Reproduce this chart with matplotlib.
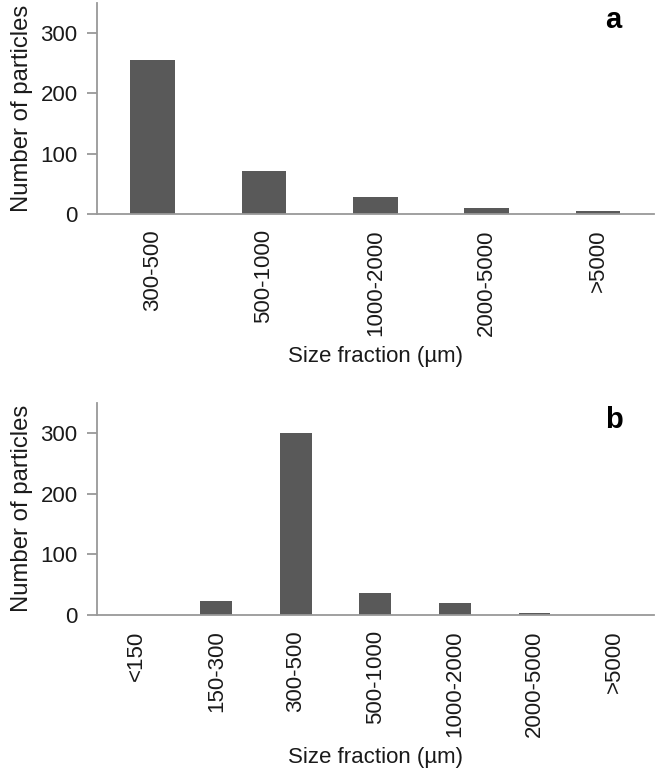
import matplotlib.pyplot as plt

plt.rcParams['font.family'] = ['Liberation Sans', 'DejaVu Sans']

# panel a
cats_a = ['300-500', '500-1000', '1000-2000', '2000-5000', '>5000']
counts_a = [256, 72, 29, 10, 5]

# panel b
cats_b = ['<150', '150-300', '300-500', '500-1000', '1000-2000', '2000-5000', '>5000']
counts_b = [0, 23, 300, 37, 20, 4, 0]

bar_color = '#595959'
axis_color = '#999999'
text_color = '#1a1a1a'
fs = 16

fig = plt.figure(figsize=(6.57, 7.74), dpi=100)
ax_a = fig.add_axes([0.1476, 0.7235, 0.8474, 0.2725])
ax_b = fig.add_axes([0.1476, 0.2054, 0.8474, 0.2743])


def draw_panel(ax, cats, counts, letter):
    x = range(len(cats))
    ax.bar(x, counts, width=0.4, color=bar_color, zorder=2)
    ax.set_xlim(-0.5, len(cats) - 0.5)
    ax.set_ylim(0, 350)
    ax.set_yticks([0, 100, 200, 300])
    ax.set_xticks(list(x))
    ax.set_xticklabels(cats, rotation=90, fontsize=fs, color=text_color)
    for s in ['top', 'right']:
        ax.spines[s].set_visible(False)
    for s in ['left', 'bottom']:
        ax.spines[s].set_color(axis_color)
        ax.spines[s].set_linewidth(1.3)
    ax.tick_params(axis='y', length=7, width=1.3, color=axis_color,
                   labelsize=fs, labelcolor=text_color, pad=7)
    ax.tick_params(axis='x', length=0, pad=11)
    ax.set_ylabel('Number of particles', fontsize=17.2, color=text_color, labelpad=5)
    ax.set_xlabel('Size fraction (µm)', fontsize=fs, color=text_color, labelpad=7)
    ax.text(0.928, 0.88, letter, transform=ax.transAxes, fontsize=21,
            fontweight='bold', ha='center', va='baseline', color='black')


draw_panel(ax_a, cats_a, counts_a, 'a')
draw_panel(ax_b, cats_b, counts_b, 'b')

fig.savefig('out.png', dpi=100)
